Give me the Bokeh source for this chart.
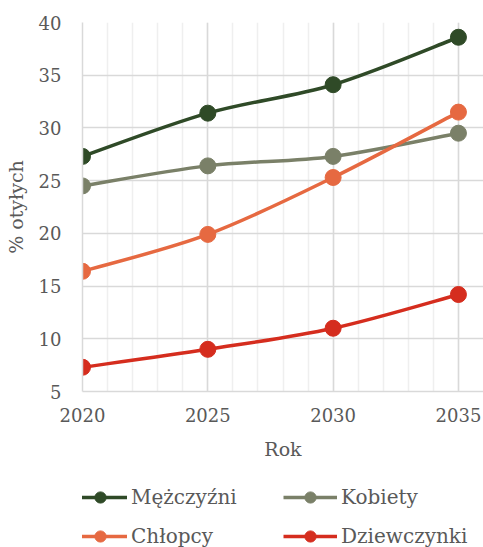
from bokeh.plotting import figure
from bokeh.layouts import column
from bokeh.models import FixedTicker, Legend, LegendItem, Range1d
from bokeh.embed import file_html
from bokeh.resources import INLINE

years = [2020, 2025, 2030, 2035]
mezczyzni = [27.3, 31.4, 34.1, 38.6]
kobiety = [24.5, 26.4, 27.3, 29.5]
chlopcy = [16.4, 19.9, 25.3, 31.5]
dziewczynki = [7.3, 9.0, 11.0, 14.2]
series_names = ["Mężczyźni", "Kobiety", "Chłopcy", "Dziewczynki"]
series_values = [mezczyzni, kobiety, chlopcy, dziewczynki]
colors = ["#2F4A27", "#7A8068", "#E66941", "#D52D1E"]
y_ticks = [5, 10, 15, 20, 25, 30, 35, 40]
x_ticks = [2020, 2025, 2030, 2035]
x_minor = list(range(2020, 2037))
x_label = "Rok"
y_label = "% otyłych"

FONT = "DejaVu Serif"
TXT = "#595959"

p = figure(width=483, height=462, output_backend="svg",
           toolbar_location=None, x_range=Range1d(2020, 2036),
           y_range=Range1d(5, 40), min_border_left=82, min_border_right=0,
           min_border_top=22, min_border_bottom=70)
p.outline_line_color = None
p.background_fill_color = "white"


def smooth(xs, ys):
    n = len(xs)
    out = {k: [] for k in ["x0", "y0", "x1", "y1", "cx0", "cy0", "cx1", "cy1"]}
    for i in range(n - 1):
        a = max(i - 1, 0)
        d = min(i + 2, n - 1)
        out["x0"].append(xs[i]); out["y0"].append(ys[i])
        out["x1"].append(xs[i + 1]); out["y1"].append(ys[i + 1])
        out["cx0"].append(xs[i] + (xs[i + 1] - xs[a]) / 6)
        out["cy0"].append(ys[i] + (ys[i + 1] - ys[a]) / 6)
        out["cx1"].append(xs[i + 1] - (xs[d] - xs[i]) / 6)
        out["cy1"].append(ys[i + 1] - (ys[d] - ys[i]) / 6)
    return out


for name, vals, c in zip(series_names, series_values, colors):
    p.bezier(source=smooth(years, vals), x0="x0", y0="y0", x1="x1", y1="y1",
             cx0="cx0", cy0="cy0", cx1="cx1", cy1="cy1",
             line_color=c, line_width=3.5, line_cap="round")
    p.scatter(years, vals, size=16, fill_color=c, line_color=c)

p.xaxis.ticker = FixedTicker(ticks=x_ticks, minor_ticks=x_minor)
p.yaxis.ticker = FixedTicker(ticks=y_ticks)
p.xgrid.grid_line_color = "#D9D9D9"
p.xgrid.grid_line_width = 1.5
p.xgrid.minor_grid_line_color = "#EFEFEF"
p.xgrid.minor_grid_line_width = 1.5
p.ygrid.grid_line_color = "#D9D9D9"
p.ygrid.grid_line_width = 1.5

for ax in (p.xaxis, p.yaxis):
    ax.axis_line_color = "#D9D9D9"
    ax.axis_line_width = 1.5
    ax.major_tick_line_color = None
    ax.minor_tick_line_color = None
    ax.major_tick_out = 0
    ax.minor_tick_out = 0
    ax.major_label_text_font = FONT
    ax.major_label_text_font_size = "18px"
    ax.major_label_text_color = TXT
    ax.axis_label_text_font = FONT
    ax.axis_label_text_font_size = "19px"
    ax.axis_label_text_color = TXT
    ax.axis_label_text_font_style = "normal"

p.xaxis.axis_label = x_label
p.yaxis.axis_label = y_label
p.yaxis.major_label_standoff = 21
p.xaxis.major_label_standoff = 16
p.yaxis.axis_label_standoff = 9
p.xaxis.axis_label_standoff = 13

# legend panel (the series are drawn outside this figure's ranges; only the legend shows)
q = figure(width=483, height=85, output_backend="svg", toolbar_location=None,
           x_axis_type=None, y_axis_type=None, x_range=Range1d(0, 1),
           y_range=Range1d(0, 1), min_border=0)
q.outline_line_color = None
leg = {}
for name, vals, c in zip(series_names, series_values, colors):
    ln = q.line(years, vals, line_color=c, line_width=3.5)
    sc = q.scatter(years, vals, fill_color=c, line_color=c)
    leg[name] = LegendItem(label=name, renderers=[ln, sc])
order = ["Mężczyźni", "Chłopcy", "Kobiety", "Dziewczynki"]

legend = Legend(items=[leg[n] for n in order], ncols=2, location=(-9, -3),
                glyph_width=54, glyph_height=28, label_standoff=4,
                label_width=141, spacing=11, padding=0, margin=0,
                label_text_font=FONT, label_text_font_size="20px",
                label_text_color=TXT, border_line_color=None,
                background_fill_alpha=0)
q.add_layout(legend, "center")

open("out.html", "w").write(file_html(column(p, q, spacing=0), INLINE))
